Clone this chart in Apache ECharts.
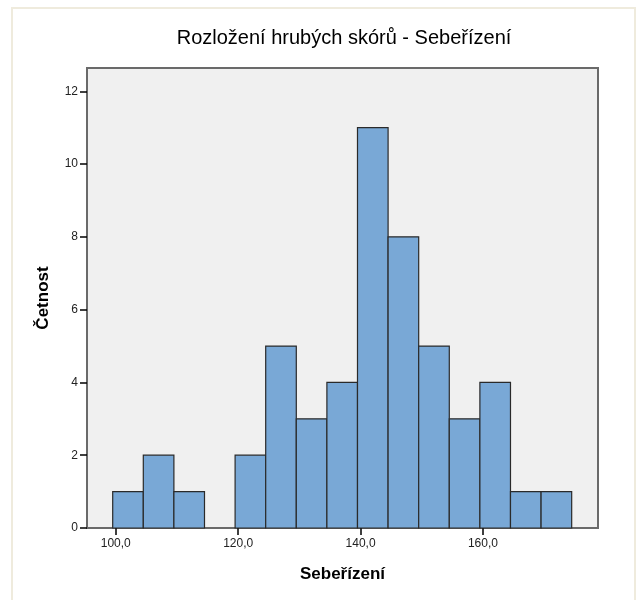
<!DOCTYPE html>
<html>
<head>
<meta charset="utf-8">
<script src="https://cdn.jsdelivr.net/npm/echarts@6/dist/echarts.min.js"></script>
<style>
  html, body { margin: 0; padding: 0; background: #fff; }
  #chart { width: 640px; height: 600px; }
</style>
</head>
<body>
<div id="chart"></div>
<script>
// Histogram bins (lower edges), bin width and frequencies
var binStarts = [99.5, 104.5, 109.5, 114.5, 119.5, 124.5, 129.5, 134.5, 139.5, 144.5, 149.5, 154.5, 159.5, 164.5, 169.5];
var binWidth = 5;
var counts = [1, 2, 1, 0, 2, 5, 3, 4, 11, 8, 5, 3, 4, 1, 1];
var xTicks = [100, 120, 140, 160];
var titleText = "Rozložení hrubých skórů - Sebeřízení";

var histData = binStarts.map(function (s, i) {
  return [s, s + binWidth, counts[i]];
});

var chart = echarts.init(document.getElementById("chart"), null, { renderer: "canvas" });

chart.setOption({
  animation: false,
  textStyle: { fontFamily: "Liberation Sans, Arial, sans-serif" },
  graphic: [
    {
      type: "rect",
      shape: { x: 12, y: 8, width: 623, height: 600 },
      style: { fill: "none", stroke: "#EFEBDD", lineWidth: 2 },
      silent: true
    }
  ],
  title: {
    text: titleText,
    left: 339,
    textAlign: "center",
    top: 23,
    textStyle: { fontSize: 20, fontWeight: "normal", color: "#000" }
  },
  grid: {
    left: 87, right: 42, top: 68, bottom: 72,
    show: true,
    backgroundColor: "#F0F0F0",
    borderColor: "#6A6A6A",
    borderWidth: 2
  },
  xAxis: {
    type: "value",
    min: 95.3,
    max: 178.8,
    name: "Sebeřízení",
    nameLocation: "middle",
    nameGap: 38,
    nameTextStyle: { fontSize: 17, fontWeight: "bold", color: "#000" },
    axisLine: { show: false },
    axisTick: {
      show: true,
      customValues: xTicks,
      length: 7,
      lineStyle: { color: "#000", width: 1.5 }
    },
    axisLabel: {
      customValues: xTicks,
      color: "#222",
      fontSize: 12,
      margin: 10,
      formatter: function (v) { return v.toFixed(1).replace(".", ","); }
    },
    splitLine: { show: false }
  },
  yAxis: {
    type: "value",
    min: 0,
    max: 12.64,
    interval: 2,
    name: "Četnost",
    nameLocation: "middle",
    nameGap: 35,
    nameTextStyle: { fontSize: 17, fontWeight: "bold", color: "#000" },
    axisLine: { show: false },
    axisTick: { show: true, length: 7, lineStyle: { color: "#000", width: 1.5 } },
    axisLabel: { color: "#222", fontSize: 12, margin: 9, showMaxLabel: false },
    splitLine: { show: false }
  },
  series: [
    {
      type: "custom",
      data: histData,
      encode: { x: [0, 1], y: 2 },
      renderItem: function (params, api) {
        var p0 = api.coord([api.value(0), 0]);
        var p1 = api.coord([api.value(1), api.value(2)]);
        if (api.value(2) <= 0) return null;
        return {
          type: "rect",
          shape: { x: p0[0], y: p1[1], width: p1[0] - p0[0], height: p0[1] - p1[1] },
          style: { fill: "#79A8D6", stroke: "#2A2A2A", lineWidth: 1.2 }
        };
      }
    }
  ]
});
</script>
</body>
</html>
